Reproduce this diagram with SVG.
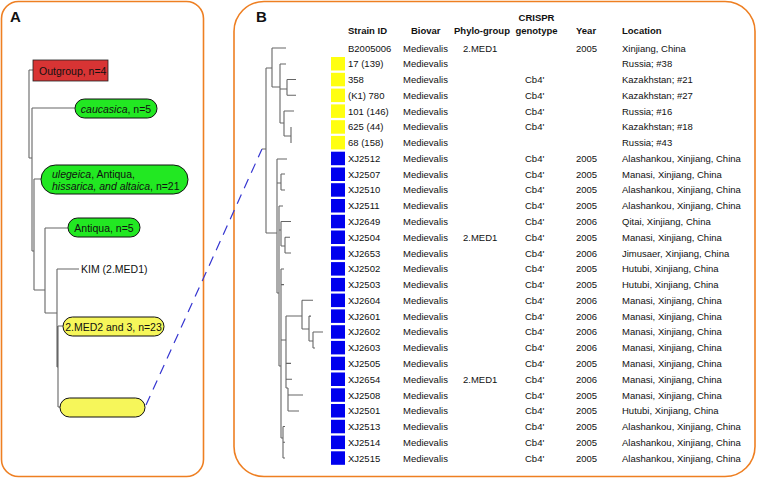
<svg xmlns="http://www.w3.org/2000/svg" width="757" height="479" viewBox="0 0 757 479">
<style>
text{font-family:"Liberation Sans",Arial,sans-serif;fill:#111}
.pl{font-size:15px;font-weight:bold}
.a{font-size:10.5px}
.h{font-size:9.5px;font-weight:bold}
.t{font-size:9.5px}
.panel{fill:#fff;stroke:#ee7f22;stroke-width:1.6}
.pill{stroke:#111;stroke-width:1}
.g{fill:#22e822}
.y{fill:#f6f65a}
.tr{fill:none;stroke:#666;stroke-width:1.1}
.sqY{fill:#ffff10}
.sqB{fill:#0000ee}
</style>
<rect width="757" height="479" fill="#fff"/>
<rect class="panel" x="1.5" y="1.5" width="202" height="475" rx="17"/>
<rect class="panel" x="234" y="1.5" width="521" height="475" rx="30"/>
<text class="pl" x="10" y="22">A</text>
<text class="pl" x="256" y="22">B</text>

<g id="connectors">
<path class="tr" d="M29,70V158M29,70H33M29,158H32M32,108V251M32,108H75M32,251H34M34,179V290M34,179H41M34,290H45M45,228V313M45,228H68M45,313H57M57,269V367M57,269H79M57,367H58M58,326V407M58,326H63M58,407H60"/>
<line x1="146" y1="405" x2="262" y2="149" stroke="#3535d0" stroke-width="1.2" stroke-dasharray="10 7"/>
<path class="tr" d="M262,149H266M266,68V233M266,68H272M272,48V87M272,48H286M272,87H280M280,64V123M280,64H286M280,89H287M287,79.5V95.3M287,79.5H296M287,95.3H296M280,123H284M284,111V136M284,111H294M284,136H291M291,127V143"/>
<path class="tr" d="M266,233H277M277,159V293M277,159H287M277,183H281M281,174V190M281,174H285M281,190H285M277,293H279M279,206V366M279,206H283M279,230H281M281,221.5V246M281,221.5H291M281,246H285M285,237.2V253M285,237.2H290M285,253H291M279,366H281M281,269V438M281,269H284M281,284.6H284M281,340H286M286,316V388M286,316H302M286,363.4H291M286,379.2H292M286,388H288M288,388V411M288,395H303M288,411H299M302,300.3V329M302,300.3H313M302,329H309M309,316.1V341M309,316.1H311M309,341H313M313,332V348M313,332H323M313,348H315M281,438H283M283,426.5V458M283,426.5H285M283,442.3H285M283,458H285"/>
</g>

<g id="outgroup"><rect x="33" y="60" width="75" height="21" fill="#d83434" stroke="#222" stroke-width="0.8"/><text class="a" x="39" y="75">Outgroup, n=4</text></g>
<g id="caucasica"><rect class="pill g" x="75" y="99" width="82" height="19" rx="9.5"/><text class="a" x="116" y="112.5" text-anchor="middle"><tspan font-style="italic">caucasica</tspan>, n=5</text></g>
<g id="ulegeica"><rect class="pill g" x="41" y="165" width="147" height="29" rx="14.5"/><text class="a" x="52" y="177.5"><tspan font-style="italic">ulegeica</tspan>, Antiqua,</text><text class="a" x="52" y="189.5"><tspan font-style="italic">hissarica, and altaica</tspan>, n=21</text></g>
<g id="antiqua"><rect class="pill g" x="68" y="218" width="72" height="19" rx="9.5"/><text class="a" x="104" y="231.5" text-anchor="middle">Antiqua, n=5</text></g>
<g id="kim"><text class="a" x="81" y="273">KIM (2.MED1)</text></g>
<g id="med2"><rect class="pill y" x="63" y="317" width="101" height="19" rx="9.5"/><text class="a" x="113.5" y="330.5" text-anchor="middle">2.MED2 and 3, n=23</text></g>
<g id="empty"><rect class="pill y" x="60" y="398" width="85" height="19" rx="9.5"/></g>

<g id="header">
<text class="h" x="348" y="33.5">Strain ID</text>
<text class="h" x="411" y="33.5">Biovar</text>
<text class="h" x="454" y="33.5">Phylo-group</text>
<text class="h" x="536.5" y="20.5" text-anchor="middle">CRISPR</text>
<text class="h" x="536.5" y="33.5" text-anchor="middle">genotype</text>
<text class="h" x="576" y="33.5">Year</text>
<text class="h" x="622" y="33.5">Location</text>
</g>

<g id="table" class="t">
<g id="r0"><text class="t" x="348" y="51.5">B2005006</text><text class="t" x="403" y="51.5">Medievalis</text><text class="t" x="463" y="51.5">2.MED1</text><text class="t" x="576" y="51.5">2005</text><text class="t" x="622" y="51.5">Xinjiang, China</text></g>
<g id="r1"><rect class="sqY" x="331" y="57" width="14" height="13.5"/><text class="t" x="348" y="67.3">17 (139)</text><text class="t" x="403" y="67.3">Medievalis</text><text class="t" x="622" y="67.3">Russia; #38</text></g>
<g id="r2"><rect class="sqY" x="331" y="72.8" width="14" height="13.5"/><text class="t" x="348" y="83">358</text><text class="t" x="403" y="83">Medievalis</text><text class="t" x="525" y="83">Cb4'</text><text class="t" x="622" y="83">Kazakhstan; #21</text></g>
<g id="r3"><rect class="sqY" x="331" y="88.6" width="14" height="13.5"/><text class="t" x="348" y="98.8">(K1) 780</text><text class="t" x="403" y="98.8">Medievalis</text><text class="t" x="525" y="98.8">Cb4'</text><text class="t" x="622" y="98.8">Kazakhstan; #27</text></g>
<g id="r4"><rect class="sqY" x="331" y="104.4" width="14" height="13.5"/><text class="t" x="348" y="114.6">101 (146)</text><text class="t" x="403" y="114.6">Medievalis</text><text class="t" x="525" y="114.6">Cb4'</text><text class="t" x="622" y="114.6">Russia; #16</text></g>
<g id="r5"><rect class="sqY" x="331" y="120.2" width="14" height="13.5"/><text class="t" x="348" y="130.4">625 (44)</text><text class="t" x="403" y="130.4">Medievalis</text><text class="t" x="525" y="130.4">Cb4'</text><text class="t" x="622" y="130.4">Kazakhstan; #18</text></g>
<g id="r6"><rect class="sqY" x="331" y="135.9" width="14" height="13.5"/><text class="t" x="348" y="146.1">68 (158)</text><text class="t" x="403" y="146.1">Medievalis</text><text class="t" x="622" y="146.1">Russia; #43</text></g>
<g id="r7"><rect class="sqB" x="331" y="151.7" width="14" height="13.5"/><text class="t" x="348" y="161.9">XJ2512</text><text class="t" x="403" y="161.9">Medievalis</text><text class="t" x="525" y="161.9">Cb4'</text><text class="t" x="576" y="161.9">2005</text><text class="t" x="622" y="161.9">Alashankou, Xinjiang, China</text></g>
<g id="r8"><rect class="sqB" x="331" y="167.5" width="14" height="13.5"/><text class="t" x="348" y="177.7">XJ2507</text><text class="t" x="403" y="177.7">Medievalis</text><text class="t" x="525" y="177.7">Cb4'</text><text class="t" x="576" y="177.7">2005</text><text class="t" x="622" y="177.7">Manasi, Xinjiang, China</text></g>
<g id="r9"><rect class="sqB" x="331" y="183.2" width="14" height="13.5"/><text class="t" x="348" y="193.4">XJ2510</text><text class="t" x="403" y="193.4">Medievalis</text><text class="t" x="525" y="193.4">Cb4'</text><text class="t" x="576" y="193.4">2005</text><text class="t" x="622" y="193.4">Alashankou, Xinjiang, China</text></g>
<g id="r10"><rect class="sqB" x="331" y="199" width="14" height="13.5"/><text class="t" x="348" y="209.2">XJ2511</text><text class="t" x="403" y="209.2">Medievalis</text><text class="t" x="525" y="209.2">Cb4'</text><text class="t" x="576" y="209.2">2005</text><text class="t" x="622" y="209.2">Alashankou, Xinjiang, China</text></g>
<g id="r11"><rect class="sqB" x="331" y="214.8" width="14" height="13.5"/><text class="t" x="348" y="225">XJ2649</text><text class="t" x="403" y="225">Medievalis</text><text class="t" x="525" y="225">Cb4'</text><text class="t" x="576" y="225">2006</text><text class="t" x="622" y="225">Qitai, Xinjiang, China</text></g>
<g id="r12"><rect class="sqB" x="331" y="230.5" width="14" height="13.5"/><text class="t" x="348" y="240.7">XJ2504</text><text class="t" x="403" y="240.7">Medievalis</text><text class="t" x="463" y="240.7">2.MED1</text><text class="t" x="525" y="240.7">Cb4'</text><text class="t" x="576" y="240.7">2005</text><text class="t" x="622" y="240.7">Manasi, Xinjiang, China</text></g>
<g id="r13"><rect class="sqB" x="331" y="246.3" width="14" height="13.5"/><text class="t" x="348" y="256.5">XJ2653</text><text class="t" x="403" y="256.5">Medievalis</text><text class="t" x="525" y="256.5">Cb4'</text><text class="t" x="576" y="256.5">2006</text><text class="t" x="622" y="256.5">Jimusaer, Xinjiang, China</text></g>
<g id="r14"><rect class="sqB" x="331" y="262.1" width="14" height="13.5"/><text class="t" x="348" y="272.3">XJ2502</text><text class="t" x="403" y="272.3">Medievalis</text><text class="t" x="525" y="272.3">Cb4'</text><text class="t" x="576" y="272.3">2005</text><text class="t" x="622" y="272.3">Hutubi, Xinjiang, China</text></g>
<g id="r15"><rect class="sqB" x="331" y="277.9" width="14" height="13.5"/><text class="t" x="348" y="288.1">XJ2503</text><text class="t" x="403" y="288.1">Medievalis</text><text class="t" x="525" y="288.1">Cb4'</text><text class="t" x="576" y="288.1">2005</text><text class="t" x="622" y="288.1">Hutubi, Xinjiang, China</text></g>
<g id="r16"><rect class="sqB" x="331" y="293.6" width="14" height="13.5"/><text class="t" x="348" y="303.8">XJ2604</text><text class="t" x="403" y="303.8">Medievalis</text><text class="t" x="525" y="303.8">Cb4'</text><text class="t" x="576" y="303.8">2006</text><text class="t" x="622" y="303.8">Manasi, Xinjiang, China</text></g>
<g id="r17"><rect class="sqB" x="331" y="309.4" width="14" height="13.5"/><text class="t" x="348" y="319.6">XJ2601</text><text class="t" x="403" y="319.6">Medievalis</text><text class="t" x="525" y="319.6">Cb4'</text><text class="t" x="576" y="319.6">2006</text><text class="t" x="622" y="319.6">Manasi, Xinjiang, China</text></g>
<g id="r18"><rect class="sqB" x="331" y="325.2" width="14" height="13.5"/><text class="t" x="348" y="335.4">XJ2602</text><text class="t" x="403" y="335.4">Medievalis</text><text class="t" x="525" y="335.4">Cb4'</text><text class="t" x="576" y="335.4">2006</text><text class="t" x="622" y="335.4">Manasi, Xinjiang, China</text></g>
<g id="r19"><rect class="sqB" x="331" y="340.9" width="14" height="13.5"/><text class="t" x="348" y="351.1">XJ2603</text><text class="t" x="403" y="351.1">Medievalis</text><text class="t" x="525" y="351.1">Cb4'</text><text class="t" x="576" y="351.1">2006</text><text class="t" x="622" y="351.1">Manasi, Xinjiang, China</text></g>
<g id="r20"><rect class="sqB" x="331" y="356.7" width="14" height="13.5"/><text class="t" x="348" y="366.9">XJ2505</text><text class="t" x="403" y="366.9">Medievalis</text><text class="t" x="525" y="366.9">Cb4'</text><text class="t" x="576" y="366.9">2005</text><text class="t" x="622" y="366.9">Manasi, Xinjiang, China</text></g>
<g id="r21"><rect class="sqB" x="331" y="372.5" width="14" height="13.5"/><text class="t" x="348" y="382.7">XJ2654</text><text class="t" x="403" y="382.7">Medievalis</text><text class="t" x="463" y="382.7">2.MED1</text><text class="t" x="525" y="382.7">Cb4'</text><text class="t" x="576" y="382.7">2006</text><text class="t" x="622" y="382.7">Manasi, Xinjiang, China</text></g>
<g id="r22"><rect class="sqB" x="331" y="388.3" width="14" height="13.5"/><text class="t" x="348" y="398.5">XJ2508</text><text class="t" x="403" y="398.5">Medievalis</text><text class="t" x="525" y="398.5">Cb4'</text><text class="t" x="576" y="398.5">2005</text><text class="t" x="622" y="398.5">Manasi, Xinjiang, China</text></g>
<g id="r23"><rect class="sqB" x="331" y="404" width="14" height="13.5"/><text class="t" x="348" y="414.2">XJ2501</text><text class="t" x="403" y="414.2">Medievalis</text><text class="t" x="525" y="414.2">Cb4'</text><text class="t" x="576" y="414.2">2005</text><text class="t" x="622" y="414.2">Hutubi, Xinjiang, China</text></g>
<g id="r24"><rect class="sqB" x="331" y="419.8" width="14" height="13.5"/><text class="t" x="348" y="430">XJ2513</text><text class="t" x="403" y="430">Medievalis</text><text class="t" x="525" y="430">Cb4'</text><text class="t" x="576" y="430">2005</text><text class="t" x="622" y="430">Alashankou, Xinjiang, China</text></g>
<g id="r25"><rect class="sqB" x="331" y="435.6" width="14" height="13.5"/><text class="t" x="348" y="445.8">XJ2514</text><text class="t" x="403" y="445.8">Medievalis</text><text class="t" x="525" y="445.8">Cb4'</text><text class="t" x="576" y="445.8">2005</text><text class="t" x="622" y="445.8">Alashankou, Xinjiang, China</text></g>
<g id="r26"><rect class="sqB" x="331" y="451.3" width="14" height="13.5"/><text class="t" x="348" y="461.5">XJ2515</text><text class="t" x="403" y="461.5">Medievalis</text><text class="t" x="525" y="461.5">Cb4'</text><text class="t" x="576" y="461.5">2005</text><text class="t" x="622" y="461.5">Alashankou, Xinjiang, China</text></g>
</g>
</svg>
